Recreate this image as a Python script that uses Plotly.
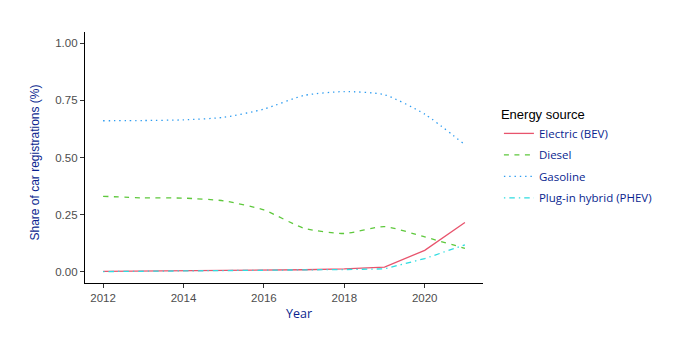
import plotly.graph_objects as go

years = [2012, 2013, 2014, 2015, 2016, 2017, 2018, 2019, 2020, 2021]
electric = [0.001, 0.002, 0.003, 0.004, 0.005, 0.008, 0.012, 0.020, 0.093, 0.215]
diesel = [0.330, 0.323, 0.322, 0.310, 0.270, 0.190, 0.167, 0.197, 0.152, 0.102]
gasoline = [0.661, 0.662, 0.665, 0.676, 0.712, 0.772, 0.789, 0.775, 0.690, 0.556]
phev = [0.000, 0.001, 0.002, 0.003, 0.004, 0.006, 0.009, 0.012, 0.057, 0.117]

series = [
    ("Electric (BEV)", electric, "#E8546D", "solid", "linear"),
    ("Diesel", diesel, "#5EC83C", "5px,5.5px", "spline"),
    ("Gasoline", gasoline, "#2D9CF0", "1.4px,3.9px", "spline"),
    ("Plug-in hybrid (PHEV)", phev, "#2EDCE0", "1.4px,4px,5.5px,4px", "linear"),
]

fig = go.Figure()
for name, vals, color, dash, shape in series:
    fig.add_trace(go.Scatter(
        x=years, y=vals, name=name, mode="lines", legendgroup=name,
        line=dict(color=color, dash=dash, width=1.3, shape=shape, smoothing=0.6),
    ))

navy = "#0A1F8F"
fig.update_layout(
    width=694, height=347,
    margin=dict(l=85, r=211, t=32, b=64),
    paper_bgcolor="white", plot_bgcolor="white",
    font=dict(family="Liberation Sans, Arial, sans-serif", size=11, color="#4D4D4D"),
    legend=dict(
        title=dict(text="Energy source", font=dict(family="Liberation Sans, Arial", size=13, color="black")),
        font=dict(family="Open Sans, Noto Sans, sans-serif", size=11.5, color=navy),
        x=1.04, xanchor="left", y=0.50, yanchor="middle",
        bgcolor="rgba(0,0,0,0)", tracegroupgap=2.5,
    ),
    xaxis=dict(
        range=[2011.55, 2021.45], tickvals=[2012, 2014, 2016, 2018, 2020],
        showgrid=False, zeroline=False, showline=True, linecolor="black", linewidth=1.2,
        ticks="outside", ticklen=4, tickcolor="#333333", tickwidth=1,
        tickfont=dict(size=11.5, color="#4D4D4D"),
    ),
    yaxis=dict(
        range=[-0.05, 1.05], tickvals=[0, 0.25, 0.5, 0.75, 1.0], tickformat=".2f",
        showgrid=False, zeroline=False, showline=True, linecolor="black", linewidth=1.2,
        ticks="outside", ticklen=4, tickcolor="#333333", tickwidth=1,
        tickfont=dict(size=11.5, color="#4D4D4D"),
    ),
    annotations=[
        dict(text="Year", xref="paper", yref="paper", x=0.5377, y=-0.1235,
             xanchor="center", yanchor="middle", showarrow=False,
             font=dict(family="Open Sans, Noto Sans, sans-serif", size=12.5, color=navy)),
        dict(text="Share of car registrations (%)", xref="paper", yref="paper",
             x=-0.1256, y=0.48, xanchor="center", yanchor="middle", textangle=-90,
             showarrow=False,
             font=dict(family="Liberation Sans, Arial, sans-serif", size=12, color=navy)),
    ],
)

fig.write_html("out.html")
